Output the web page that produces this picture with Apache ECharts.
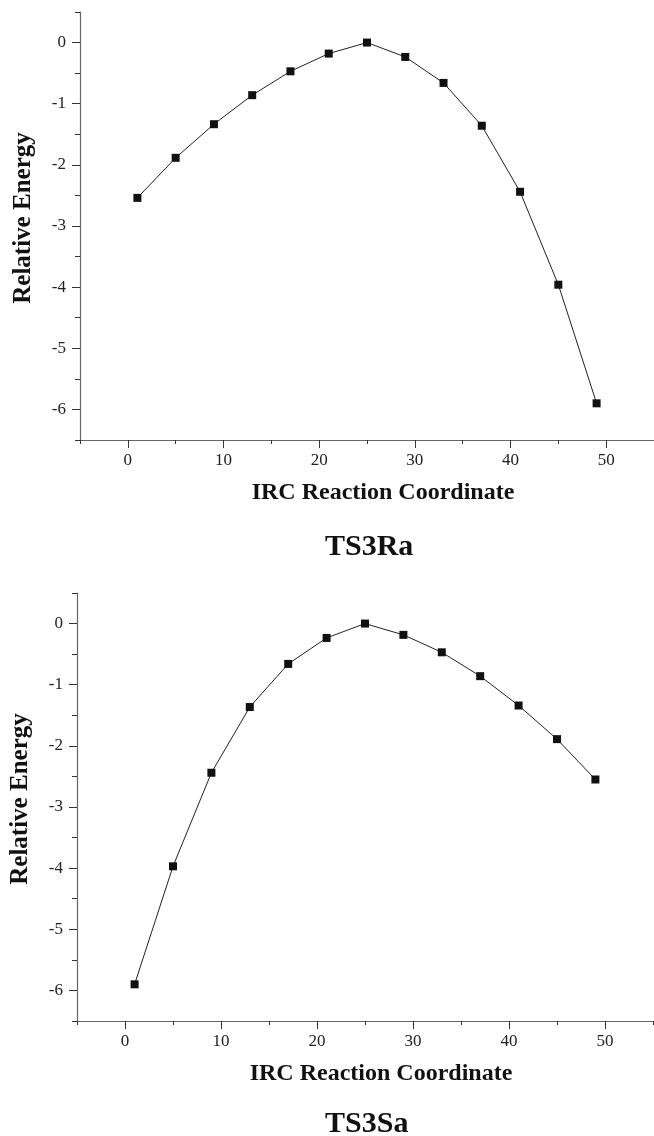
<!DOCTYPE html>
<html>
<head>
<meta charset="utf-8">
<title>IRC TS3Ra / TS3Sa</title>
<script src="https://cdn.jsdelivr.net/npm/echarts@6/dist/echarts.min.js"></script>
<style>
  html, body { margin: 0; padding: 0; background: #fff; }
  #main { width: 654px; height: 1136px; }
</style>
</head>
<body>
<div id="main"></div>
<script>
// IRC 点（横坐标）
var ircSteps = [1, 5, 9, 13, 17, 21, 25, 29, 33, 37, 41, 45, 49];
// 相对能量
var energyTS3Ra = [-2.54, -1.885, -1.335, -0.86, -0.47, -0.18, 0, -0.235, -0.66, -1.36, -2.44, -3.96, -5.90];
var energyTS3Sa = [-5.90, -3.97, -2.44, -1.365, -0.66, -0.235, 0, -0.185, -0.47, -0.86, -1.34, -1.89, -2.55];
// 刻度
var xMajorTicks = [0, 10, 20, 30, 40, 50];
var xMinorTicks = [-5, 5, 15, 25, 35, 45, 55];
var yMajorTicks = [0, -1, -2, -3, -4, -5, -6];
var yMinorTicks = [0.5, -0.5, -1.5, -2.5, -3.5, -4.5, -5.5, -6.5];
var chartTitles = ['TS3Ra', 'TS3Sa'];

var serif = '"Liberation Serif", "DejaVu Serif", serif';
var axisColor = '#666';
var textColor = '#111';

var grids = [
    {left: 80, top: 12, width: 574, height: 428},
    {left: 77, top: 593, width: 576, height: 428}
];
var titlePos = [{left: 325, top: 532}, {left: 325, top: 1109}];
var seriesData = [energyTS3Ra, energyTS3Sa];

var xAxes = [], yAxes = [], series = [], titles = [];

for (var g = 0; g < grids.length; g++) {
    // 主 x 轴
    xAxes.push({
        type: 'value', gridIndex: g, position: 'bottom',
        min: -5, max: 55,
        name: 'IRC Reaction Coordinate',
        nameLocation: 'middle',
        nameGap: 41,
        nameTextStyle: {fontFamily: serif, fontWeight: 'bold', fontSize: 24, color: textColor, padding: [0, 0, 0, 32]},
        axisLine: {show: true, onZero: false, lineStyle: {color: axisColor, width: 1.2}},
        axisTick: {show: true, inside: false, length: 8, customValues: xMajorTicks, lineStyle: {color: '#333', width: 1}},
        axisLabel: {customValues: xMajorTicks, margin: 12, fontFamily: serif, fontSize: 17, color: '#222'},
        splitLine: {show: false}
    });
    // 次刻度
    xAxes.push({
        type: 'value', gridIndex: g, position: 'bottom',
        min: -5, max: 55,
        axisLine: {show: false, onZero: false},
        axisTick: {show: true, inside: false, length: 4, customValues: xMinorTicks, lineStyle: {color: '#333', width: 1}},
        axisLabel: {show: false},
        splitLine: {show: false}
    });
    // 主 y 轴
    yAxes.push({
        type: 'value', gridIndex: g, position: 'left',
        min: -6.5, max: 0.5,
        name: 'Relative Energy',
        nameLocation: 'middle',
        nameGap: 44,
        nameTextStyle: {fontFamily: serif, fontWeight: 'bold', fontSize: 25, color: textColor, padding: [0, 0, 0, 16]},
        axisLine: {show: true, onZero: false, lineStyle: {color: axisColor, width: 1.2}},
        axisTick: {show: true, inside: false, length: 8, customValues: yMajorTicks, lineStyle: {color: '#333', width: 1}},
        axisLabel: {customValues: yMajorTicks, margin: 14, fontFamily: serif, fontSize: 17, color: '#222'},
        splitLine: {show: false}
    });
    yAxes.push({
        type: 'value', gridIndex: g, position: 'left',
        min: -6.5, max: 0.5,
        axisLine: {show: false, onZero: false},
        axisTick: {show: true, inside: false, length: 5, customValues: yMinorTicks, lineStyle: {color: '#333', width: 1}},
        axisLabel: {show: false},
        splitLine: {show: false}
    });

    var pts = [];
    for (var i = 0; i < ircSteps.length; i++) {
        pts.push([ircSteps[i], seriesData[g][i]]);
    }
    series.push({
        name: chartTitles[g],
        type: 'line',
        xAxisIndex: 2 * g,
        yAxisIndex: 2 * g,
        data: pts,
        symbol: 'rect',
        symbolSize: 8,
        lineStyle: {color: '#222', width: 1},
        itemStyle: {color: '#111'}
    });

    titles.push({
        text: chartTitles[g],
        left: titlePos[g].left,
        top: titlePos[g].top,
        padding: 0,
        textStyle: {fontFamily: serif, fontWeight: 'bold', fontSize: 30, color: textColor}
    });
}

var chart = echarts.init(document.getElementById('main'));
chart.setOption({
    animation: false,
    backgroundColor: '#fff',
    title: titles,
    grid: grids,
    xAxis: xAxes,
    yAxis: yAxes,
    series: series
});
</script>
</body>
</html>
